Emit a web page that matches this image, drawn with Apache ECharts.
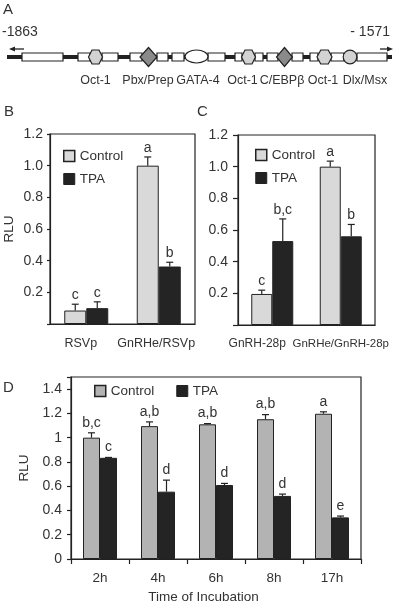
<!DOCTYPE html>
<html><head><meta charset="utf-8">
<script src="https://cdn.jsdelivr.net/npm/echarts@6/dist/echarts.min.js"></script>
<style>html,body{margin:0;padding:0;background:#fff}#c{width:400px;height:602px}</style>
</head><body><div id="c"></div>
<script>
const FONT = '"Liberation Sans", Arial, Helvetica, sans-serif';
const TXT = '#333';
const INK = '#222';

// ---- Panel B ----
const catsB = ['RSVp', 'GnRHe/RSVp'];
const ctrlB = [0.085, 1.0];
const ctrlErrB = [0.125, 1.055];
const tpaB = [0.10, 0.363];
const tpaErrB = [0.14, 0.39];
const ctrlLblB = ['c', 'a'];
const tpaLblB = ['c', 'b'];

// ---- Panel C ----
const catsC = ['GnRH-28p', 'GnRHe/GnRH-28p'];
const ctrlC = [0.196, 1.0];
const ctrlErrC = [0.22, 1.035];
const tpaC = [0.53, 0.56];
const tpaErrC = [0.67, 0.635];
const ctrlLblC = ['c', 'a'];
const tpaLblC = ['b,c', 'b'];

// ---- Panel D ----
const catsD = ['2h', '4h', '6h', '8h', '17h'];
const ctrlD = [1.0, 1.095, 1.11, 1.152, 1.197];
const ctrlErrD = [1.04, 1.13, 1.116, 1.19, 1.213];
const tpaD = [0.834, 0.555, 0.61, 0.52, 0.343];
const tpaErrD = [0.837, 0.65, 0.623, 0.535, 0.354];
const ctrlLblD = ['b,c', 'a,b', 'a,b', 'a,b', 'a'];
const tpaLblD = ['c', 'd', 'd', 'd', 'e'];

// ---- tick labels ----
const yTicksBC = ['0.2', '0.4', '0.6', '0.8', '1.0', '1.2'];
const yTicksD = ['0', '0.2', '0.4', '0.6', '0.8', '1', '1.2', '1.4'];

// ---- Panel A (promoter map) labels ----
const bpStart = '-1863';
const bpEnd = '- 1571';
const siteLabels = ['Oct-1', 'Pbx/Prep', 'GATA-4', 'Oct-1', 'C/EBPβ', 'Oct-1', 'Dlx/Msx'];

const chart = echarts.init(document.getElementById('c'), null, {renderer: 'canvas'});

function tickFmt(list) {
  return function (v) {
    const s1 = (Math.round(v * 10) / 10).toFixed(1);
    const s0 = String(Math.round(v * 10) / 10);
    if (list.indexOf(s1) >= 0) return s1;
    if (list.indexOf(s0) >= 0) return s0;
    return '';
  };
}

function errSeries(ax, vals, errs, lbls, sign, bw, gap) {
  return {
    type: 'custom', xAxisIndex: ax, yAxisIndex: ax, z: 5, silent: true,
    data: vals.map((v, i) => [i, v, errs[i]]),
    renderItem: function (params, api) {
      const i = params.dataIndex;
      const base = api.coord([api.value(0), api.value(1)]);
      const top = api.coord([api.value(0), api.value(2)]);
      const x = base[0] + sign * bw / 2;
      return {
        type: 'group', children: [
          {type: 'line', shape: {x1: x, y1: base[1], x2: x, y2: top[1]}, style: {stroke: INK, lineWidth: 1.2}},
          {type: 'line', shape: {x1: x - 3.5, y1: top[1], x2: x + 3.5, y2: top[1]}, style: {stroke: INK, lineWidth: 1.2}},
          {type: 'text', x: x, y: top[1] - gap, style: {text: lbls[i], fill: TXT, font: '14px ' + FONT,
            align: 'center', verticalAlign: 'bottom', textAlign: 'center', textVerticalAlign: 'bottom'}}
        ]
      };
    }
  };
}

function barSeries(ax, name, vals, color, bw) {
  return {
    type: 'bar', name: name, xAxisIndex: ax, yAxisIndex: ax, data: vals, barWidth: bw, barGap: '0%',
    silent: true, animation: false,
    itemStyle: {color: color, borderColor: INK, borderWidth: 1}
  };
}

const axisLineStyle = {color: INK, width: 1.2};

function yAxisCfg(gi, max, ticks, name, nameGap, margin, tickLen) {
  return {
    gridIndex: gi, type: 'value', min: 0, max: max, interval: 0.2,
    name: name, nameLocation: 'middle', nameGap: nameGap, nameRotate: 90,
    nameTextStyle: {color: TXT, fontSize: 13.5, fontFamily: FONT},
    axisLine: {show: true, lineStyle: axisLineStyle},
    axisTick: {show: true, inside: false, length: tickLen, lineStyle: axisLineStyle},
    axisLabel: {show: true, formatter: tickFmt(ticks), margin: margin, color: TXT, fontSize: 14, fontFamily: FONT},
    splitLine: {show: false}
  };
}

// Panel A geometry (illustration)
const LY = 57;
const gfx = [];
function rectEl(x0, x1) {
  gfx.push({type: 'rect', shape: {x: x0, y: LY - 4, width: x1 - x0, height: 8},
    style: {fill: '#fff', stroke: INK, lineWidth: 1.2}, z: 2});
}
function hexEl(cx, w, h) {
  gfx.push({type: 'polygon', shape: {points: [
    [cx - w / 4, LY - h / 2], [cx + w / 4, LY - h / 2], [cx + w / 2, LY], [cx + w / 4, LY + h / 2],
    [cx - w / 4, LY + h / 2], [cx - w / 2, LY]]},
    style: {fill: '#d3d3d3', stroke: INK, lineWidth: 1.2}, z: 3});
}
function diaEl(cx, w, h) {
  gfx.push({type: 'polygon', shape: {points: [[cx, LY - h / 2], [cx + w / 2, LY], [cx, LY + h / 2], [cx - w / 2, LY]]},
    style: {fill: '#8a8a8a', stroke: INK, lineWidth: 1.2}, z: 3});
}
gfx.push({type: 'line', shape: {x1: 7, y1: LY, x2: 392, y2: LY}, style: {stroke: INK, lineWidth: 4}, z: 1});
// arrows
gfx.push({type: 'line', shape: {x1: 24, y1: 49, x2: 13, y2: 49}, style: {stroke: INK, lineWidth: 1.3}, z: 1});
gfx.push({type: 'polygon', shape: {points: [[9, 49], [15, 46.5], [15, 51.5]]}, style: {fill: INK}, z: 1});
gfx.push({type: 'line', shape: {x1: 380, y1: 49, x2: 388, y2: 49}, style: {stroke: INK, lineWidth: 1.3}, z: 1});
gfx.push({type: 'polygon', shape: {points: [[393, 49], [387, 46.5], [387, 51.5]]}, style: {fill: INK}, z: 1});
[[22, 63], [78, 90], [102, 118], [130, 142], [157, 168], [172, 184], [208, 225], [235, 242], [255, 263],
 [267, 278], [292, 303], [310, 318], [331, 344], [357, 387]].forEach(r => rectEl(r[0], r[1]));
hexEl(95.5, 14, 14);
hexEl(248.5, 14, 14);
hexEl(324.5, 15, 14);
diaEl(148.5, 17, 19);
diaEl(284.5, 16, 19);
gfx.push({type: 'ellipse', shape: {cx: 196.5, cy: 56.5, rx: 11.5, ry: 6.5}, style: {fill: '#fff', stroke: INK, lineWidth: 1.2}, z: 3});
gfx.push({type: 'circle', shape: {cx: 350, cy: LY, r: 6.8}, style: {fill: '#d3d3d3', stroke: INK, lineWidth: 1.2}, z: 3});
const siteX = [95.5, 148, 198, 242.5, 282, 323, 365];
siteLabels.forEach((t, i) => gfx.push({type: 'text', x: siteX[i], y: 81,
  style: {text: t, fill: TXT, font: '12.5px ' + FONT, align: 'center', verticalAlign: 'middle', textAlign: 'center', textVerticalAlign: 'middle'}}));
gfx.push({type: 'text', x: 2, y: 32.5, style: {text: bpStart, fill: TXT, font: '14px ' + FONT, align: 'left', verticalAlign: 'middle', textVerticalAlign: 'middle'}});
gfx.push({type: 'text', x: 390, y: 32.5, style: {text: bpEnd, fill: TXT, font: '14px ' + FONT, align: 'right', verticalAlign: 'middle', textAlign: 'right', textVerticalAlign: 'middle'}});
// panel letters
[['A', 3, 2], ['B', 4, 104], ['C', 197, 104], ['D', 3, 380]].forEach(p => gfx.push({type: 'text', x: p[1], y: p[2],
  style: {text: p[0], fill: TXT, font: '15px ' + FONT, align: 'left', verticalAlign: 'top', textVerticalAlign: 'top'}}));

const legendText = {color: TXT, fontSize: 13.5, fontFamily: FONT};
function legendData(ctrlColor) {
  return [
    {name: 'Control', icon: 'rect', itemStyle: {color: ctrlColor, borderColor: INK, borderWidth: 1.5}},
    {name: 'TPA', icon: 'rect', itemStyle: {color: INK, borderColor: INK, borderWidth: 1}}
  ];
}

const option = {
  backgroundColor: '#fff',
  animation: false,
  textStyle: {fontFamily: FONT},
  grid: [
    {left: 50, top: 134, width: 145, height: 190, show: true, borderColor: INK, borderWidth: 1.2, backgroundColor: 'transparent', containLabel: false, outerBoundsMode: 'none'},
    {left: 238, top: 135, width: 137, height: 190, show: true, borderColor: INK, borderWidth: 1.2, backgroundColor: 'transparent', containLabel: false, outerBoundsMode: 'none'},
    {left: 71, top: 377, width: 290, height: 182, show: true, borderColor: INK, borderWidth: 1.2, backgroundColor: 'transparent', containLabel: false, outerBoundsMode: 'none'}
  ],
  legend: [
    {orient: 'vertical', left: 58, top: 144, itemWidth: 11, itemHeight: 11, itemGap: 9, selectedMode: false,
      textStyle: legendText, data: legendData('#d9d9d9')},
    {orient: 'vertical', left: 250, top: 143, itemWidth: 11, itemHeight: 11, itemGap: 9, selectedMode: false,
      textStyle: legendText, data: legendData('#d9d9d9')},
    {orient: 'horizontal', left: 89, top: 379, itemWidth: 11, itemHeight: 11, itemGap: 22, selectedMode: false,
      textStyle: legendText, data: legendData('#b3b3b3')}
  ],
  xAxis: [
    {gridIndex: 0, type: 'category', data: catsB, axisLine: {show: true, lineStyle: axisLineStyle}, axisTick: {show: false},
      axisLabel: {interval: 0, margin: 13, color: TXT, fontSize: 12.5, fontFamily: FONT,
        formatter: (v, i) => i === 0 ? '{l|' + v + '}' : '{n|' + v + '}',
        rich: {l: {padding: [0, 11, 0, 0], fontSize: 12.5, color: TXT, fontFamily: FONT}, n: {padding: [0, 5, 0, 0], fontSize: 12.5, color: TXT, fontFamily: FONT}}},
      splitLine: {show: false}},
    {gridIndex: 1, type: 'category', data: catsC, axisLine: {show: true, lineStyle: axisLineStyle}, axisTick: {show: false},
      axisLabel: {interval: 0, margin: 13, color: TXT, fontSize: 12, fontFamily: FONT,
        formatter: (v, i) => i === 0 ? '{l|' + v + '}' : '{n|' + v + '}',
        rich: {l: {padding: [0, 30, 0, 0], fontSize: 12, color: TXT, fontFamily: FONT}, n: {fontSize: 11.5, color: TXT, fontFamily: FONT}}},
      splitLine: {show: false}},
    {gridIndex: 2, type: 'category', data: catsD, axisLine: {show: true, lineStyle: axisLineStyle},
      axisTick: {show: true, inside: false, length: 5, alignWithLabel: false, lineStyle: axisLineStyle},
      axisLabel: {interval: 0, margin: 12, color: TXT, fontSize: 13.5, fontFamily: FONT},
      name: 'Time of Incubation', nameLocation: 'middle', nameGap: 31,
      nameTextStyle: {color: TXT, fontSize: 13.5, fontFamily: FONT, padding: [0, 25, 0, 0]},
      splitLine: {show: false}}
  ],
  yAxis: [
    yAxisCfg(0, 1.2, yTicksBC, 'RLU', 34, 7, 3),
    yAxisCfg(1, 1.2, yTicksBC, '', 0, 10, 5),
    yAxisCfg(2, 1.5, yTicksD, 'RLU', 40, 9, 4)
  ],
  graphic: {elements: gfx},
  series: [
    barSeries(0, 'Control', ctrlB, '#d9d9d9', 22),
    barSeries(0, 'TPA', tpaB, '#242424', 22),
    errSeries(0, ctrlB, ctrlErrB, ctrlLblB, -1, 22, 2),
    errSeries(0, tpaB, tpaErrB, tpaLblB, 1, 22, 2),
    barSeries(1, 'Control', ctrlC, '#d9d9d9', 21),
    barSeries(1, 'TPA', tpaC, '#242424', 21),
    errSeries(1, ctrlC, ctrlErrC, ctrlLblC, -1, 21, 2),
    errSeries(1, tpaC, tpaErrC, tpaLblC, 1, 21, 2),
    barSeries(2, 'Control', ctrlD, '#b3b3b3', 17),
    barSeries(2, 'TPA', tpaD, '#242424', 17),
    errSeries(2, ctrlD, ctrlErrD, ctrlLblD, -1, 17, 3),
    errSeries(2, tpaD, tpaErrD, tpaLblD, 1, 17, 3)
  ]
};
chart.setOption(option);
</script>
</body></html>
